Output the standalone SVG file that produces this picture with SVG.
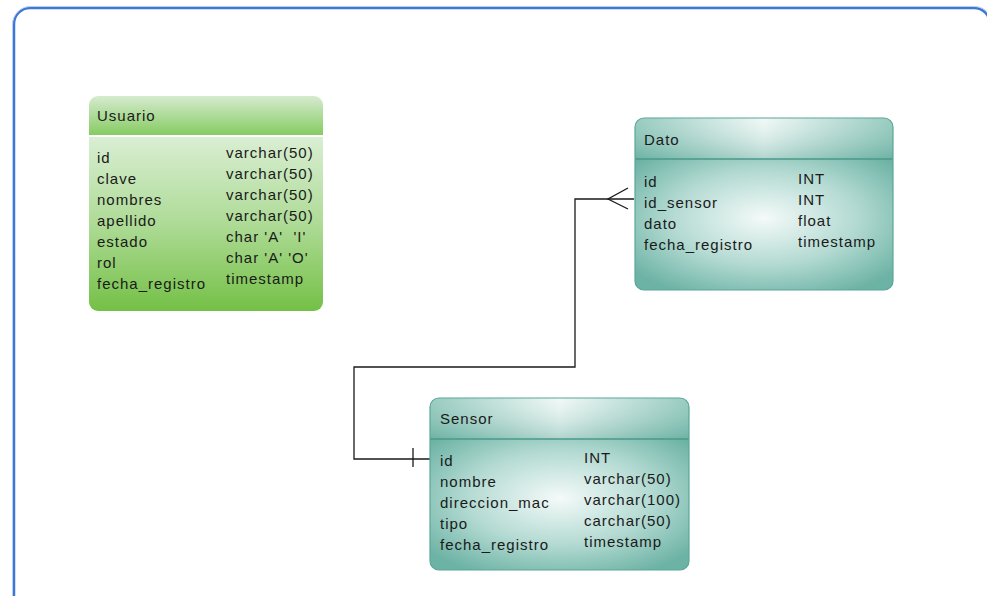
<svg xmlns="http://www.w3.org/2000/svg" width="987" height="596" viewBox="0 0 987 596">
<defs>
<linearGradient id="gHead" x1="0" y1="0" x2="0" y2="1">
<stop offset="0" stop-color="#d6ebcf"/><stop offset="1" stop-color="#86cb62"/>
</linearGradient>
<linearGradient id="gBody" x1="0" y1="0" x2="0" y2="1">
<stop offset="0" stop-color="#d9eed3"/><stop offset="0.5" stop-color="#aedb96"/><stop offset="1" stop-color="#74c046"/>
</linearGradient>
<linearGradient id="tHead" x1="0" y1="0" x2="1" y2="0">
<stop offset="0" stop-color="#86c2b5"/><stop offset="0.5" stop-color="#eef7f5"/><stop offset="1" stop-color="#86c2b5"/>
</linearGradient>
<linearGradient id="tHeadV" x1="0" y1="0" x2="0" y2="1">
<stop offset="0" stop-color="#ffffff" stop-opacity="0.15"/><stop offset="1" stop-color="#3f9584" stop-opacity="0.35"/>
</linearGradient>
<radialGradient id="tBody" cx="0.5" cy="0.45" r="0.65">
<stop offset="0" stop-color="#f4faf9"/><stop offset="0.55" stop-color="#b3dad2"/><stop offset="1" stop-color="#6db3a5"/>
</radialGradient>
<clipPath id="cU"><rect x="89" y="96" width="234" height="215" rx="9"/></clipPath>
<clipPath id="cD"><rect x="635" y="118" width="258" height="172" rx="9"/></clipPath>
<clipPath id="cS"><rect x="430" y="398" width="259" height="172" rx="9"/></clipPath>
</defs>
<style>
text{font-family:"Liberation Sans",Arial,sans-serif;font-size:15px;letter-spacing:1px;fill:#1a1a1a}
.conn{fill:none;stroke:#1a1a1a;stroke-width:1.3}
.tborder{fill:none;stroke:#5aa797;stroke-width:1.2}
.tsep{stroke:#4a9a8a;stroke-width:1.5}
</style>
<rect x="0" y="0" width="987" height="596" fill="#ffffff"/>
<rect x="14" y="8" width="976" height="640" rx="16" fill="none" stroke="#3d78d4" stroke-width="2.5"/>
<rect x="12.5" y="6.5" width="980" height="640" rx="18" fill="none" stroke="#b9cdf0" stroke-width="1"/>

<g id="connectors">
<path class="conn" d="M634,199 H575 V367 H354 V459 H430"/>
<path class="conn" d="M628,188 L608,199 L628,209"/>
<path class="conn" d="M413,448 V467"/>
</g>

<g id="usuario">
<g clip-path="url(#cU)">
<rect x="89" y="96" width="234" height="39" fill="url(#gHead)"/>
<rect x="89" y="135" width="234" height="2" fill="#ffffff"/>
<rect x="89" y="137" width="234" height="174" fill="url(#gBody)"/>
</g>
<text x="97" y="121">Usuario</text>
<text x="97" y="163">id</text>
<text x="97" y="184">clave</text>
<text x="97" y="205">nombres</text>
<text x="97" y="226">apellido</text>
<text x="97" y="247">estado</text>
<text x="97" y="268">rol</text>
<text x="97" y="289">fecha_registro</text>
<text x="226" y="158">varchar(50)</text>
<text x="226" y="179">varchar(50)</text>
<text x="226" y="200">varchar(50)</text>
<text x="226" y="221">varchar(50)</text>
<text x="226" y="242" xml:space="preserve">char 'A'  'I'</text>
<text x="226" y="263" xml:space="preserve">char 'A' 'O'</text>
<text x="226" y="284">timestamp</text>
</g>

<g id="dato">
<g clip-path="url(#cD)">
<rect x="635" y="118" width="258" height="41" fill="url(#tHead)"/>
<rect x="635" y="118" width="258" height="41" fill="url(#tHeadV)"/>
<rect x="635" y="159" width="258" height="131" fill="url(#tBody)"/>
</g>
<line class="tsep" x1="635" y1="159" x2="893" y2="159"/>
<rect class="tborder" x="635" y="118" width="258" height="172" rx="9"/>
<text x="644" y="145">Dato</text>
<text x="644" y="187">id</text>
<text x="644" y="208">id_sensor</text>
<text x="644" y="229">dato</text>
<text x="644" y="250">fecha_registro</text>
<text x="798" y="184">INT</text>
<text x="798" y="205">INT</text>
<text x="798" y="226">float</text>
<text x="798" y="247">timestamp</text>
</g>

<g id="sensor">
<g clip-path="url(#cS)">
<rect x="430" y="398" width="259" height="41" fill="url(#tHead)"/>
<rect x="430" y="398" width="259" height="41" fill="url(#tHeadV)"/>
<rect x="430" y="439" width="259" height="131" fill="url(#tBody)"/>
</g>
<line class="tsep" x1="430" y1="439" x2="689" y2="439"/>
<rect class="tborder" x="430" y="398" width="259" height="172" rx="9"/>
<text x="440" y="424">Sensor</text>
<text x="440" y="466">id</text>
<text x="440" y="487">nombre</text>
<text x="440" y="508">direccion_mac</text>
<text x="440" y="529">tipo</text>
<text x="440" y="550">fecha_registro</text>
<text x="584" y="463">INT</text>
<text x="584" y="484">varchar(50)</text>
<text x="584" y="505">varchar(100)</text>
<text x="584" y="526">carchar(50)</text>
<text x="584" y="547">timestamp</text>
</g>
</svg>
